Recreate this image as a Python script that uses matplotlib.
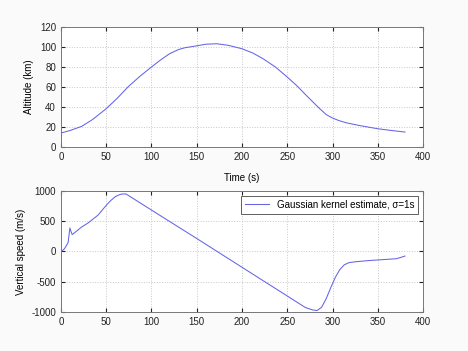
import matplotlib

matplotlib.use("Agg")

import matplotlib.pyplot as plt  # noqa: E402

plt.rcParams["font.family"] = ["Liberation Sans", "DejaVu Sans"]
plt.rcParams["font.size"] = 7
plt.rcParams["axes.unicode_minus"] = False

# altitude profile
t_alt = [0, 10, 23, 35, 50, 62, 74, 87, 100, 110, 120, 130, 137, 150, 160, 172,
         185, 200, 212, 223, 237, 250, 261, 271, 279, 286, 293, 300, 307, 315,
         330, 350, 365, 380]
alt_km = [14, 16.5, 20.7, 27.5, 38.3, 48.5, 60, 70.5, 80, 87, 93.3, 97.5, 99.3,
          101.2, 102.8, 103.3, 101.7, 98.3, 94, 88.5, 80, 70, 61, 51.7, 44.5,
          38.3, 32.5, 29, 26.5, 24.3, 21.5, 18.3, 16.6, 15]

# vertical speed, Gaussian kernel estimate
t_vs = [0, 4, 8, 10, 11, 12.5, 16, 23, 30, 41, 50, 55, 60, 65, 68, 72, 100, 150,
        200, 250, 270, 278, 283, 288, 293, 298, 303, 308, 313, 318, 325, 340,
        360, 370, 375, 380]
vs_ms = [-5, 45, 145, 390, 340, 280, 320, 405, 470, 600, 760, 840, 905, 940, 950,
         950, 685, 215, -260, -735, -925, -965, -975, -920, -780, -600, -430,
         -300, -220, -185, -170, -150, -130, -120, -100, -75]

LINE = "#6464e6"
GRID = "#c8c8c8"


def style(ax):
    ax.grid(True, linestyle=":", color=GRID, linewidth=0.7)
    ax.tick_params(direction="in", length=3, top=True, right=True, colors="#222",
                   labelsize=7)
    for s in ax.spines.values():
        s.set_color("#777")
        s.set_linewidth(0.7)
    ax.set_xlim(0, 400)


fig = plt.figure(figsize=(4.68, 3.51), dpi=100, facecolor="#fafafa")

ax1 = fig.add_axes([0.130, 0.581, 0.774, 0.342])
ax1.plot(t_alt, alt_km, color=LINE, linewidth=0.75)
ax1.set_ylim(0, 120)
ax1.set_yticks(range(0, 121, 20))
ax1.set_ylabel("Altitude (km)")
ax1.set_xlabel("Time (s)", labelpad=8)
style(ax1)

ax2 = fig.add_axes([0.130, 0.111, 0.774, 0.345])
ax2.plot(t_vs, vs_ms, color=LINE, linewidth=0.75,
         label="Gaussian kernel estimate, σ=1s")
ax2.set_ylim(-1000, 1000)
ax2.set_yticks(range(-1000, 1001, 500))
ax2.set_ylabel("Vertical speed (m/s)")
style(ax2)
leg = ax2.legend(loc="upper right", fontsize=7, fancybox=False, framealpha=1,
                 edgecolor="#444", handlelength=2.5, borderaxespad=0.5)
leg.get_frame().set_linewidth(0.6)

fig.savefig("out.png", dpi=100, facecolor=fig.get_facecolor())
plt.close(fig)
